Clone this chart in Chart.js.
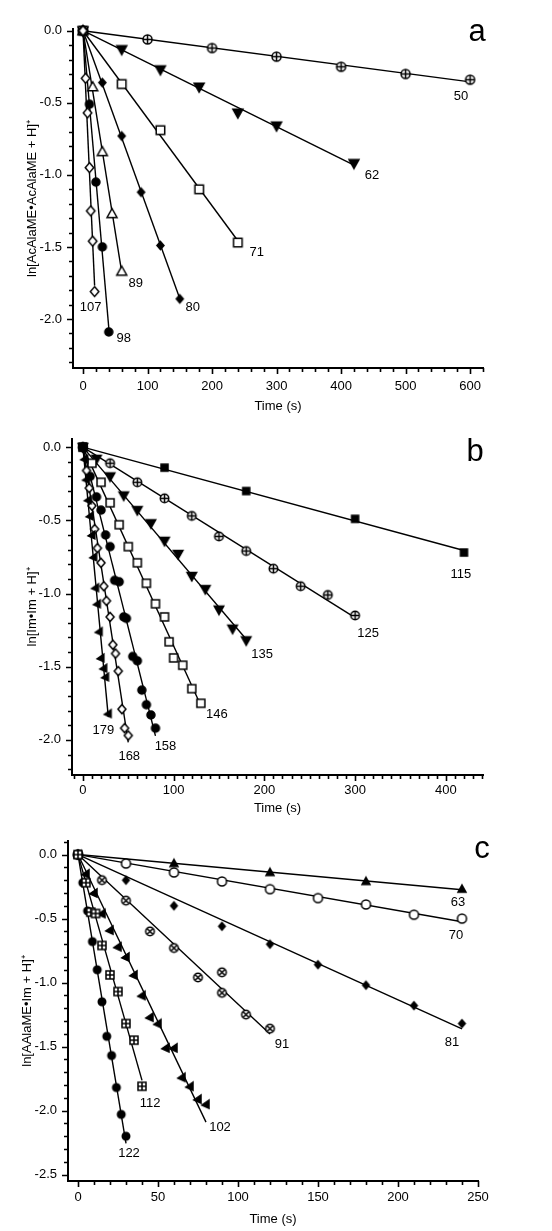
<!DOCTYPE html>
<html>
<head>
<meta charset="utf-8">
<script src="https://cdn.jsdelivr.net/npm/chart.js@4.4.1/dist/chart.umd.min.js"></script>
<style>
  html, body { margin: 0; padding: 0; background: #fff; }
  #wrap { position: relative; width: 552px; height: 1231px; }
  canvas { position: absolute; left: 0; }
</style>
</head>
<body>
<div id="wrap">
  <canvas id="chartA" width="552" height="420" style="top:0"></canvas>
  <canvas id="chartB" width="552" height="400" style="top:420px"></canvas>
  <canvas id="chartC" width="552" height="411" style="top:820px"></canvas>
</div>
<script>
/* ---------- panel a: ln[AcAlaME•AcAlaME + H]+ ---------- */
const a50_t = [0, 100, 200, 300, 400, 500, 600];
const a50_v = [0, -0.06, -0.12, -0.18, -0.25, -0.30, -0.34];
const a62_t = [0, 60, 120, 180, 240, 300, 420];
const a62_v = [0, -0.13, -0.27, -0.39, -0.57, -0.66, -0.92];
const a71_t = [0, 60, 120, 180, 240];
const a71_v = [0, -0.37, -0.69, -1.10, -1.47];
const a80_t = [0, 30, 60, 90, 120, 150];
const a80_v = [0, -0.36, -0.73, -1.12, -1.49, -1.86];
const a89_t = [0, 15, 30, 45, 60];
const a89_v = [0, -0.39, -0.84, -1.27, -1.67];
const a98_t = [0, 10, 20, 30, 40];
const a98_v = [0, -0.51, -1.05, -1.50, -2.09];
const a107_t = [0, 4, 7, 10, 12, 15, 18];
const a107_v = [0, -0.33, -0.57, -0.95, -1.25, -1.46, -1.81];
const xTicksA = [0, 100, 200, 300, 400, 500, 600];
const yTicksA = [0, -0.5, -1.0, -1.5, -2.0];

/* ---------- panel b: ln[Im•Im + H]+ ---------- */
const b115_t = [0, 90, 180, 300, 420];
const b115_v = [0, -0.14, -0.30, -0.49, -0.72];
const b125_t = [0, 30, 60, 90, 120, 150, 180, 210, 240, 270, 300];
const b125_v = [0, -0.11, -0.24, -0.35, -0.47, -0.61, -0.71, -0.83, -0.95, -1.01, -1.15];
const b135_t = [0, 15, 30, 45, 60, 75, 90, 105, 120, 135, 150, 165, 180];
const b135_v = [0, -0.08, -0.20, -0.33, -0.43, -0.52, -0.64, -0.73, -0.88, -0.97, -1.11, -1.24, -1.32];
const b146_t = [0, 10, 20, 30, 40, 50, 60, 70, 80, 90, 95, 100, 110, 120, 130];
const b146_v = [0, -0.11, -0.24, -0.38, -0.53, -0.68, -0.79, -0.93, -1.07, -1.16, -1.33, -1.44, -1.49, -1.65, -1.75];
const b158_t = [0, 8, 15, 20, 25, 30, 35, 40, 45, 48, 55, 60, 65, 70, 75, 80];
const b158_v = [0, -0.20, -0.34, -0.43, -0.60, -0.68, -0.91, -0.92, -1.16, -1.17, -1.43, -1.46, -1.66, -1.76, -1.83, -1.92];
const b168_t = [0, 4, 7, 10, 13, 16, 20, 23, 26, 30, 33, 36, 39, 43, 46, 50];
const b168_v = [0, -0.16, -0.28, -0.40, -0.56, -0.69, -0.79, -0.95, -1.05, -1.16, -1.35, -1.41, -1.53, -1.79, -1.92, -1.97];
const b179_t = [0, 2, 4, 6, 8, 10, 12, 14, 16, 18, 20, 23, 25, 28];
const b179_v = [0, -0.08, -0.22, -0.36, -0.47, -0.60, -0.75, -0.96, -1.07, -1.26, -1.44, -1.51, -1.57, -1.82];
const xTicksB = [0, 100, 200, 300, 400];
const yTicksB = [0, -0.5, -1.0, -1.5, -2.0];

/* ---------- panel c: ln[AAlaME•Im + H]+ ---------- */
const c63_t = [0, 60, 120, 180, 240];
const c63_v = [0, -0.07, -0.14, -0.21, -0.27];
const c70_t = [0, 30, 60, 90, 120, 150, 180, 210, 240];
const c70_v = [0, -0.07, -0.14, -0.21, -0.27, -0.34, -0.39, -0.47, -0.50];
const c81_t = [0, 30, 60, 90, 120, 150, 180, 210, 240];
const c81_v = [0, -0.20, -0.40, -0.56, -0.70, -0.86, -1.02, -1.18, -1.32];
const c91_t = [0, 15, 30, 45, 60, 75, 90, 90, 105, 120];
const c91_v = [0, -0.20, -0.36, -0.60, -0.73, -0.96, -0.92, -1.08, -1.25, -1.36];
const c102_t = [0, 5, 10, 15, 20, 25, 30, 35, 40, 45, 50, 55, 60, 65, 70, 75, 80];
const c102_v = [0, -0.15, -0.30, -0.46, -0.59, -0.72, -0.80, -0.94, -1.10, -1.27, -1.32, -1.51, -1.51, -1.74, -1.81, -1.91, -1.95];
const c112_t = [0, 5, 8, 11, 15, 20, 25, 30, 35, 40];
const c112_v = [0, -0.22, -0.45, -0.46, -0.71, -0.94, -1.07, -1.32, -1.45, -1.81];
const c122_t = [0, 3, 6, 9, 12, 15, 18, 21, 24, 27, 30];
const c122_v = [0, -0.22, -0.44, -0.68, -0.90, -1.15, -1.42, -1.57, -1.82, -2.03, -2.20];
const xTicksC = [0, 50, 100, 150, 200, 250];
const yTicksC = [0, -0.5, -1.0, -1.5, -2.0, -2.5];

const FONT = '"Liberation Sans", Arial, Helvetica, sans-serif';
Chart.defaults.font.family = FONT;
Chart.defaults.font.size = 13;
Chart.defaults.color = '#000';

// small canvases used as point styles (open symbols have a white inside)
function makeMarker(shape, d, filled) {
  const size = Math.ceil(d) + 6;
  const c = document.createElement('canvas');
  c.width = c.height = size;
  const g = c.getContext('2d');
  const m = size / 2, r = d / 2;
  g.lineWidth = 1.5;
  g.strokeStyle = '#000';
  g.fillStyle = filled ? '#000' : '#fff';
  g.beginPath();
  if (shape === 'circle' || shape === 'circlePlus' || shape === 'circleCross') {
    g.arc(m, m, r, 0, Math.PI * 2);
  } else if (shape === 'square' || shape === 'squarePlus') {
    g.rect(m - r, m - r, d, d);
  } else if (shape === 'diamond') {
    g.moveTo(m, m - r * 1.15); g.lineTo(m + r, m); g.lineTo(m, m + r * 1.15); g.lineTo(m - r, m);
  } else if (shape === 'triUp') {
    g.moveTo(m, m - r * 1.05); g.lineTo(m + r, m + r * 0.75); g.lineTo(m - r, m + r * 0.75);
  } else if (shape === 'triDown') {
    g.moveTo(m, m + r * 1.05); g.lineTo(m + r, m - r * 0.75); g.lineTo(m - r, m - r * 0.75);
  } else if (shape === 'triLeft') {
    g.moveTo(m - r * 1.05, m + r * 0.2); g.lineTo(m + r * 0.75, m - r); g.lineTo(m + r * 0.75, m + r);
  }
  g.closePath();
  g.fill();
  g.stroke();
  g.beginPath();
  if (shape === 'circlePlus' || shape === 'squarePlus') {
    g.moveTo(m - r, m); g.lineTo(m + r, m);
    g.moveTo(m, m - r); g.lineTo(m, m + r);
  } else if (shape === 'circleCross') {
    const k = r * 0.72;
    g.moveTo(m - k, m - k); g.lineTo(m + k, m + k);
    g.moveTo(m + k, m - k); g.lineTo(m - k, m + k);
  }
  g.stroke();
  return c;
}

// least squares line through the origin
function fitSlope(ts, vs) {
  let sxy = 0, sxx = 0;
  ts.forEach((t, i) => { sxy += t * vs[i]; sxx += t * t; });
  return sxx ? sxy / sxx : 0;
}

// major/minor tick marks pointing out of the plot
const tickMarks = {
  id: 'tickMarks',
  afterDraw(chart, args, o) {
    const { ctx, chartArea: a, scales: { x, y } } = chart;
    ctx.save();
    ctx.strokeStyle = '#000';
    ctx.lineWidth = 1.6;
    ctx.beginPath();
    for (let i = Math.ceil(x.min / o.xMinor); i * o.xMinor <= x.max + 1e-9; i++) {
      const v = i * o.xMinor;
      const major = Math.abs(v / o.xMajor - Math.round(v / o.xMajor)) < 1e-6;
      const px = Math.round(x.getPixelForValue(v)) + 0.5;
      ctx.moveTo(px, a.bottom);
      ctx.lineTo(px, a.bottom + (major ? 6 : 4));
    }
    for (let i = Math.ceil(y.min / o.yMinor - 1e-9); i * o.yMinor <= y.max + 1e-9; i++) {
      const v = i * o.yMinor;
      const major = Math.abs(v / o.yMajor - Math.round(v / o.yMajor)) < 1e-6;
      const py = Math.round(y.getPixelForValue(v)) + 0.5;
      ctx.moveTo(a.left, py);
      ctx.lineTo(a.left - (major ? 6 : 4), py);
    }
    ctx.stroke();
    ctx.restore();
  }
};

// numbers next to the end of each series + the panel letter
const seriesLabels = {
  id: 'seriesLabels',
  afterDatasetsDraw(chart, args, o) {
    const { ctx, scales: { x, y } } = chart;
    ctx.save();
    ctx.fillStyle = '#000';
    ctx.textAlign = 'center';
    ctx.textBaseline = 'middle';
    ctx.font = '13px ' + FONT;
    o.items.forEach(it => {
      const n = it.t.length - 1;
      ctx.fillText(it.name, x.getPixelForValue(it.t[n]) + it.dx, y.getPixelForValue(it.v[n]) + it.dy);
    });
    ctx.font = '31px ' + FONT;
    ctx.fillText(o.letter, o.letterX, o.letterY);
    ctx.restore();
  }
};

function makePanel(p) {
  const datasets = [];
  p.series.forEach((s, i) => {
    datasets.push({
      data: s.t.map((t, k) => ({ x: t, y: s.v[k] })),
      showLine: false,
      pointStyle: makeMarker(s.shape, s.size, s.filled),
      pointRadius: 4,
      order: i,
      clip: false
    });
    const slope = fitSlope(s.t, s.v);
    const tEnd = s.t[s.t.length - 1];
    datasets.push({
      data: [{ x: 0, y: 0 }, { x: tEnd, y: slope * tEnd }],
      showLine: true,
      pointRadius: 0,
      borderColor: '#000',
      borderWidth: 1.4,
      order: 100,
      clip: false
    });
  });

  const H = p.height;
  new Chart(document.getElementById(p.id), {
    type: 'scatter',
    data: { datasets },
    options: {
      responsive: false,
      animation: false,
      events: [],
      layout: { padding: { left: 0, right: 552 - p.right, top: p.top, bottom: 0 } },
      plugins: {
        legend: { display: false },
        tooltip: { enabled: false },
        tickMarks: { xMajor: p.xTicks[1] - p.xTicks[0], xMinor: p.xMinor, yMajor: 0.5, yMinor: 0.1 },
        seriesLabels: { items: p.series, letter: p.letter, letterX: p.letterX, letterY: p.letterY }
      },
      scales: {
        x: {
          type: 'linear',
          min: p.xMin,
          max: p.xMax,
          afterBuildTicks: s => { s.ticks = p.xTicks.map(value => ({ value })); },
          afterFit: s => { s.height = H - p.bottom; },
          grid: { display: false, drawTicks: false },
          border: { display: true, color: '#000', width: 2 },
          ticks: { autoSkip: false, maxRotation: 0, padding: p.xPad, font: { size: 13 }, color: '#000',
                   callback: v => String(v) },
          title: { display: true, text: 'Time (s)', font: { size: 13 }, color: '#000',
                   padding: { top: 0, bottom: p.xTitlePad } }
        },
        y: {
          type: 'linear',
          min: p.yMin,
          max: p.yMax,
          afterBuildTicks: s => { s.ticks = p.yTicks.map(value => ({ value })); },
          afterFit: s => { s.width = p.left; },
          grid: { display: false, drawTicks: false },
          border: { display: true, color: '#000', width: 2 },
          ticks: { padding: 11, font: { size: 13 }, color: '#000',
                   callback: v => Number(v).toFixed(1) },
          title: { display: true, text: p.yTitle, font: { size: 13 }, color: '#000',
                   padding: { top: p.yTitleX - 7.8, bottom: 0 } }
        }
      }
    },
    plugins: [tickMarks, seriesLabels]
  });
}

makePanel({
  id: 'chartA', height: 420, left: 73, right: 483, top: 29, bottom: 368,
  xMin: -15.5, xMax: 620, yMin: -2.34, yMax: 0.012, xTicks: xTicksA, yTicks: yTicksA, xMinor: 20,
  xPad: 11, xTitlePad: 5.5, yTitleX: 32,
  yTitle: 'ln[AcAlaME\u2022AcAlaME + H]\u207A',
  letter: 'a', letterX: 477, letterY: 32,
  series: [
    { name: '107', t: a107_t, v: a107_v, shape: 'diamond', size: 8.5, filled: false, dx: -4, dy: 16 },
    { name: '98', t: a98_t, v: a98_v, shape: 'circle', size: 8, filled: true, dx: 15, dy: 6 },
    { name: '89', t: a89_t, v: a89_v, shape: 'triUp', size: 10, filled: false, dx: 14, dy: 11.5 },
    { name: '80', t: a80_t, v: a80_v, shape: 'diamond', size: 7, filled: true, dx: 13, dy: 9 },
    { name: '71', t: a71_t, v: a71_v, shape: 'square', size: 8.5, filled: false, dx: 19, dy: 10 },
    { name: '62', t: a62_t, v: a62_v, shape: 'triDown', size: 10, filled: true, dx: 18, dy: 12.5 },
    { name: '50', t: a50_t, v: a50_v, shape: 'circlePlus', size: 9, filled: false, dx: -9, dy: 17 }
  ]
});

makePanel({
  id: 'chartB', height: 400, left: 72, right: 483, top: 18, bottom: 355,
  xMin: -12, xMax: 441, yMin: -2.24, yMax: 0.057, xTicks: xTicksB, yTicks: yTicksB, xMinor: 10,
  xPad: 7.5, xTitlePad: 4, yTitleX: 32,
  yTitle: 'ln[Im\u2022Im + H]\u207A',
  letter: 'b', letterX: 475, letterY: 32,
  series: [
    { name: '115', t: b115_t, v: b115_v, shape: 'square', size: 7, filled: true, dx: -3, dy: 22 },
    { name: '179', t: b179_t, v: b179_v, shape: 'triLeft', size: 7.5, filled: true, dx: -5, dy: 17 },
    { name: '168', t: b168_t, v: b168_v, shape: 'diamond', size: 8, filled: false, dx: 1, dy: 21 },
    { name: '158', t: b158_t, v: b158_v, shape: 'circle', size: 8, filled: true, dx: 10, dy: 18 },
    { name: '146', t: b146_t, v: b146_v, shape: 'square', size: 8, filled: false, dx: 16, dy: 11 },
    { name: '135', t: b135_t, v: b135_v, shape: 'triDown', size: 9.5, filled: true, dx: 16, dy: 14 },
    { name: '125', t: b125_t, v: b125_v, shape: 'circlePlus', size: 8.5, filled: false, dx: 13, dy: 18 }
  ]
});

makePanel({
  id: 'chartC', height: 411, left: 68, right: 478, top: 21, bottom: 361,
  xMin: -6.25, xMax: 250, yMin: -2.55, yMax: 0.106, xTicks: xTicksC, yTicks: yTicksC, xMinor: 10,
  xPad: 8.5, xTitlePad: 4, yTitleX: 27.5,
  yTitle: 'ln[AAlaME\u2022Im + H]\u207A',
  letter: 'c', letterX: 482, letterY: 29,
  series: [
    { name: '112', t: c112_t, v: c112_v, shape: 'squarePlus', size: 8, filled: false, dx: 8, dy: 17 },
    { name: '122', t: c122_t, v: c122_v, shape: 'circle', size: 7.5, filled: true, dx: 3, dy: 17 },
    { name: '102', t: c102_t, v: c102_v, shape: 'triLeft', size: 8, filled: true, dx: 14, dy: 23 },
    { name: '91', t: c91_t, v: c91_v, shape: 'circleCross', size: 8.5, filled: false, dx: 12, dy: 16 },
    { name: '81', t: c81_t, v: c81_v, shape: 'diamond', size: 6.5, filled: true, dx: -10, dy: 19 },
    { name: '70', t: c70_t, v: c70_v, shape: 'circle', size: 9, filled: false, dx: -6, dy: 17 },
    { name: '63', t: c63_t, v: c63_v, shape: 'triUp', size: 8, filled: true, dx: -4, dy: 13 }
  ]
});
</script>
</body>
</html>
